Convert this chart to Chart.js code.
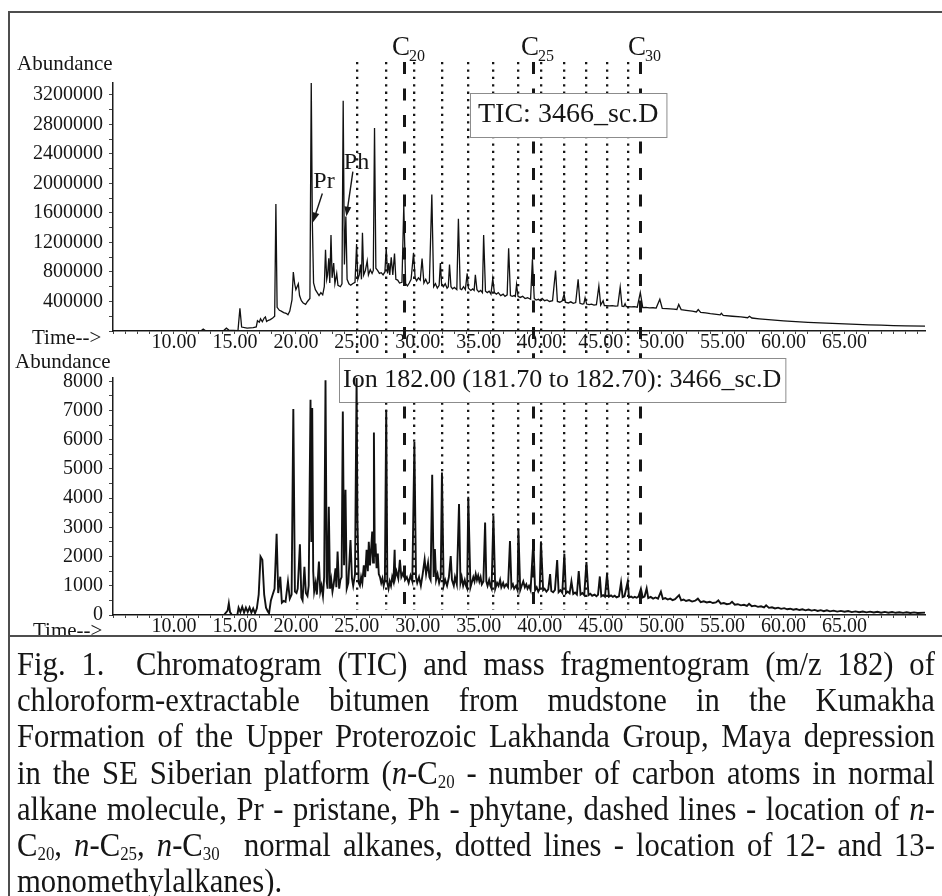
<!DOCTYPE html>
<html lang="en">
<head>
<meta charset="UTF-8"/>
<meta name="viewport" content="width=device-width, initial-scale=1.0"/>
<title>Chromatogram (TIC) and mass fragmentogram (m/z 182)</title>
<script src="https://cdn.jsdelivr.net/npm/chart.js"></script>
<style>
    html, body {
        margin: 0;
        padding: 0;
        background: #fff;
        width: 942px;
        height: 896px;
        overflow: hidden;
        font-family: 'Liberation Serif', 'Times New Roman', serif;
        color: #161616;
    }
    canvas { position: absolute; left: 0; }
    #ticChart { top: 0; }
    #ionChart { top: 348px; }
    .frame {
        position: absolute; left: 8px; top: 11px; width: 940px; height: 900px;
        border-left: 2px solid #4d4d4d; border-top: 2px solid #4d4d4d;
    }
    .divider { position: absolute; left: 8px; width: 934px; top: 635px; height: 2px; background: #4d4d4d; }
    /* the printed caption font is a narrow Times: larger size, squeezed sideways */
    .caption {
        position: absolute; left: 17px; top: 646px; width: 987px;
        font-size: 33px; line-height: 36.2px;
        transform: scaleX(0.93); transform-origin: 0 0;
    }
    .caption .j { text-align: justify; text-align-last: justify; }
    .caption sub { font-size: 0.55em; vertical-align: -0.22em; line-height: 0; }
</style>
</head>
<body>
<canvas id="ticChart" width="942" height="358"></canvas>
<canvas id="ionChart" width="942" height="288"></canvas>
<div class="frame"></div>
<div class="divider"></div>
<div class="caption">
    <div class="j">Fig. 1.&nbsp; Chromatogram (TIC) and mass fragmentogram (m/z 182) of</div>
    <div class="j">chloroform-extractable bitumen from mudstone in the Kumakha</div>
    <div class="j">Formation of the Upper Proterozoic Lakhanda Group, Maya depression</div>
    <div class="j">in the SE Siberian platform (<i>n</i>-C<sub>20</sub> - number of carbon atoms in normal</div>
    <div class="j">alkane molecule, Pr - pristane, Ph - phytane, dashed lines - location of <i>n</i>-</div>
    <div class="j">C<sub>20</sub>, <i>n</i>-C<sub>25</sub>, <i>n</i>-C<sub>30</sub>&nbsp; normal alkanes, dotted lines - location of 12- and 13-</div>
    <div>monomethylalkanes).</div>
</div>

<script>
    // ---------- values ----------
    const timeLabels = [10, 15, 20, 25, 30, 35, 40, 45, 50, 55, 60, 65];
    const ticAxisLabels = [400000, 800000, 1200000, 1600000, 2000000, 2400000, 2800000, 3200000];
    const ionAxisLabels = [0, 1000, 2000, 3000, 4000, 5000, 6000, 7000, 8000];

    // dashed lines: n-C20, n-C25, n-C30 ; dotted lines: 12- and 13-monomethylalkanes
    const nAlkaneTimes = [28.85, 39.43, 48.25];
    const nAlkaneNames = ['20', '25', '30'];
    const methylAlkaneTimes = [24.98, 27.42, 29.72, 31.98, 34.14, 36.2, 38.25, 40.1, 42.02, 43.83, 45.52, 47.22];

    // TIC: baseline / hump (min, abundance)
    const ticBaseTime = [
        5.0, 8.0, 12.2, 12.4, 12.6, 13.5, 14.1, 14.3, 14.5, 15.25, 15.55,
        16.0, 16.5, 16.75, 16.85, 17.0, 17.1, 17.25, 17.4, 17.5, 17.6, 17.75, 17.9, 18.1, 18.26,
        18.46, 18.65, 18.8, 19.0, 19.2, 19.35, 19.5, 19.68, 19.9, 20.0, 20.1, 20.3, 20.45, 20.6, 20.8, 20.95, 21.15,
        21.45, 21.6, 21.75, 21.9, 22.05, 22.2, 22.33, 22.53, 22.6, 22.78, 22.97, 23.2, 23.45, 23.65, 23.78, 23.98,
        24.2, 24.35, 24.5, 24.65, 24.85, 25.08, 25.2, 25.38, 25.56, 25.7, 25.95, 26.1, 26.25, 26.35, 26.56, 26.7, 26.85, 27.0, 27.15, 27.3, 27.52, 27.7, 27.95, 28.2, 28.35, 28.5, 28.7,
        29.0, 29.15, 29.3, 29.45, 29.78, 29.9, 30.05, 30.2, 30.5, 30.65, 30.8, 30.95, 31.3, 31.45, 31.6, 31.75, 31.95, 32.1, 32.25, 32.4, 32.5, 32.72, 32.85, 33.0, 33.2, 33.48, 33.6, 33.75, 33.9,
        34.15, 34.35, 34.5, 34.62, 34.85, 35.0, 35.15, 35.3, 35.55, 35.7, 35.85, 36.0, 36.28, 36.45, 36.6, 36.8, 37.0, 37.15, 37.33, 37.6, 37.75, 37.9, 38.0,
        38.22, 38.4, 38.6, 38.8, 39.0, 39.25, 39.55, 39.7, 39.9, 40.05, 40.2, 40.4, 40.6, 40.8, 41.05, 41.45, 41.65, 41.85, 42.1, 42.35, 42.55, 42.75, 42.95, 43.3, 43.5, 43.62, 43.85,
        44.05, 44.25, 44.45, 44.65, 45.0, 45.3, 45.45, 45.7, 45.95, 46.2, 46.4, 46.75, 46.9, 47.1, 47.25, 47.5, 47.75, 48.0, 48.45, 48.7, 49.0, 49.3, 49.55, 50.05, 50.4, 50.7, 51.0, 51.25, 51.6, 52.0, 52.5, 52.85, 53.2, 53.6, 54.0, 54.5, 54.8, 55.05, 55.8, 56.5, 57.05, 57.4,
        58.0, 59.0, 60.0, 61.0, 62.0, 63.0, 64.0, 65.0, 66.0, 67.0, 68.0, 69.0, 70.0, 71.6
    ];
    const ticBaseValue = [
        0, 0, 0, 25000, 4000, 3000, 9000, 38000, 12000, 6000, 54000,
        40000, 45000, 55000, 140000, 120000, 165000, 125000, 175000, 190000, 130000, 145000, 155000, 175000, 200000,
        320000, 280000, 270000, 250000, 240000, 220000, 270000, 420000, 640000, 560000, 600000, 480000, 410000, 380000, 360000, 400000, 440000,
        650000, 560000, 520000, 480000, 520000, 490000, 600000, 700000, 760000, 650000, 720000, 640000, 620000, 600000, 640000, 900000,
        700000, 640000, 620000, 640000, 660000, 700000, 760000, 700000, 760000, 820000, 760000, 830000, 780000, 820000, 850000, 820000, 780000, 790000, 760000, 800000, 780000, 760000, 760000, 700000, 690000, 650000, 660000,
        640000, 610000, 650000, 700000, 720000, 680000, 720000, 690000, 650000, 700000, 640000, 660000, 600000, 640000, 580000, 620000, 640000, 600000, 640000, 580000, 600000, 600000, 570000, 590000, 560000, 570000, 560000, 600000, 560000,
        580000, 550000, 570000, 550000, 560000, 530000, 550000, 520000, 540000, 520000, 540000, 500000, 520000, 500000, 520000, 480000, 500000, 470000, 490000, 480000, 470000, 480000, 470000,
        470000, 455000, 470000, 440000, 450000, 430000, 440000, 420000, 430000, 410000, 440000, 410000, 420000, 400000, 410000, 400000, 390000, 410000, 390000, 380000, 395000, 375000, 385000, 375000, 365000, 370000, 365000,
        358000, 365000, 352000, 358000, 350000, 345000, 345000, 340000, 345000, 337000, 340000, 335000, 332000, 330000, 330000, 328000, 330000, 322000, 318000, 320000, 312000, 315000, 310000, 305000, 302000, 300000, 296000, 292000, 290000, 280000, 268000, 258000, 252000, 245000, 235000, 225000, 218000, 212000, 200000, 190000, 180000, 176000,
        165000, 150000, 137000, 126000, 117000, 110000, 103000, 96000, 89000, 84000, 79000, 74000, 70000, 66000
    ];
    // TIC: peak apexes
    const ticPeakTime = [
        15.41, 18.36, 19.79, 20.2, 21.26, 21.35, 22.43, 22.7, 22.88, 23.1, 23.35, 23.88, 24.1, 24.98, 25.3, 25.46, 25.85, 26.45,
        27.41, 27.62, 27.82, 28.09, 28.85, 29.65, 30.35, 31.15, 31.85, 32.6, 33.33, 34.05, 34.72, 35.4, 36.15, 37.45, 38.1,
        39.4, 41.3, 42.0, 43.15, 43.72, 44.85, 45.2, 46.6, 47.0, 48.25, 49.85, 51.4, 53.0, 54.9, 57.2
    ];
    const ticPeakValue = [
        306000, 1720000, 800000, 640000, 3360000, 1470000, 1100000, 985000, 1300000, 920000, 780000, 3120000, 1550000, 1180000, 900000, 1330000, 950000, 2750000,
        1120000, 920000, 1000000, 1050000, 1700000, 1060000, 980000, 1850000, 920000, 900000, 1520000, 780000, 760000, 1300000, 710000, 1120000, 630000,
        970000, 820000, 500000, 700000, 450000, 610000, 410000, 595000, 370000, 520000, 430000, 360000, 290000, 240000, 200000
    ];
    const isoprenoidTimes = [21.35, 24.1];
    const isoprenoidNames = ['Pr', 'Ph'];

    // Ion 182: baseline / noise
    const ionBaseTime = [
        5.0, 14.1, 14.4, 14.6, 14.75, 15.2, 15.3, 15.45, 15.6, 15.75, 15.9, 16.05, 16.2, 16.35, 16.5, 16.65, 16.8, 16.95,
        17.4, 17.55, 17.7, 17.8, 17.95, 18.1, 18.25, 18.55, 18.85, 19.0, 19.15, 19.5, 19.65, 19.92, 20.05, 20.15, 20.45, 20.55, 20.82, 20.95, 21.05, 21.27,
        21.42, 21.5, 21.62, 21.72, 22.0, 22.1, 22.22, 22.32, 22.53, 22.6, 22.8, 22.9, 23.0, 23.1, 23.32, 23.55, 23.65, 23.75, 23.95, 24.17, 24.3, 24.6, 24.7, 24.85,
        25.15, 25.25, 25.35, 25.45, 25.68, 25.9, 26.08, 26.33, 26.47, 26.62, 26.8, 26.9, 27.0, 27.1, 27.2, 27.3, 27.5, 27.6, 27.7, 27.8, 27.9, 28.0, 28.15, 28.25, 28.4, 28.65, 28.75, 28.95, 29.1, 29.25, 29.4, 29.55,
        29.85, 29.95, 30.1, 30.25, 30.4, 30.68, 30.95, 31.05, 31.3, 31.5, 31.62, 31.75, 31.88, 32.12, 32.25, 32.4, 32.55, 32.8, 32.95, 33.05, 33.2, 33.5, 33.6, 33.72, 33.85, 33.95, 34.05,
        34.32, 34.45, 34.55, 34.65, 34.75, 34.85, 34.95, 35.05, 35.15, 35.25, 35.38, 35.62, 35.72, 35.85, 35.95, 36.05, 36.35, 36.5, 36.62, 36.75, 36.85, 37.0, 37.1, 37.25, 37.4, 37.68, 37.8, 37.9, 38.05, 38.18, 38.4, 38.52, 38.65, 38.78, 38.9, 39.0, 39.12, 39.25,
        39.62, 39.75, 39.88, 40.0, 40.28, 40.4, 40.55, 40.7, 40.95, 41.1, 41.25, 41.55, 41.7, 41.85, 42.15, 42.3, 42.45, 42.75, 42.9, 43.05, 43.35, 43.5, 43.65, 44.0, 44.15, 44.3, 44.5, 44.65, 44.78, 45.05, 45.2, 45.35, 45.68, 45.85, 46.0, 46.15, 46.3, 46.5, 46.8, 46.95, 47.32, 47.5, 47.65, 47.8, 47.95,
        48.1, 48.45, 48.6, 48.9, 49.1, 49.3, 49.5, 49.7, 50.1, 50.3, 50.5, 50.7, 50.9, 51.1, 51.6, 51.8, 52.0, 52.25, 52.5, 52.75, 53.2, 53.45, 53.7, 53.95, 54.2, 54.45, 54.85, 55.1, 55.35, 55.6, 56.0, 56.25, 56.5, 56.75, 57.0, 57.4, 57.65, 57.9, 58.15, 58.4,
        58.8, 59.05, 59.3, 59.55, 59.8, 60.05, 60.3, 60.55, 60.8, 61.05, 61.3, 61.55, 61.8, 62.05, 62.3, 62.55, 62.8, 63.05, 63.3, 63.55, 63.8, 64.1, 64.4, 64.7, 65.0, 65.3, 65.6, 65.9, 66.2, 66.5, 66.8, 67.1, 67.4, 67.7, 68.0, 68.3, 68.6, 68.9, 69.2, 69.5, 69.8, 70.1, 70.4, 70.7, 71.0, 71.6
    ];
    const ionBaseValue = [
        0, 0, 150, 100, 0, 0, 250, 100, 280, 80, 250, 100, 260, 80, 220, 60, 230, 700,
        700, 250, 120, 60, 500, 700, 900, 750, 420, 480, 450, 560, 700, 800, 750, 900, 600, 500, 750, 650, 1000, 2500,
        1500, 800, 1100, 700, 800, 1000, 650, 1300, 1150, 900, 900, 1200, 800, 1050, 950, 900, 1200, 1300, 1700, 900, 1100, 1250, 1000, 1400,
        1100, 1000, 1300, 1100, 1300, 1500, 1700, 1800, 2000, 1600, 1400, 1300, 1100, 1250, 1000, 1200, 1100, 900, 1150, 1000, 1300, 1150, 1300, 1500, 1250, 1300, 1400, 1200, 1300, 1100, 1350, 1150,
        1300, 1100, 1300, 1000, 1400, 1400, 1300, 1200, 1300, 1200, 1400, 1100, 1300, 1000, 1200, 1000, 1300, 1200, 1000, 1300, 1050, 1100, 1300, 1000, 1200, 1000, 900,
        950, 1150, 1300, 1150, 1400, 1200, 1350, 1150, 1300, 1050, 1150, 1150, 1000, 1200, 1000, 900, 900, 1100, 1000, 1200, 950, 1100, 950, 1050, 950, 950, 1050, 900, 1000, 850, 850, 1000, 1150, 950, 1050, 900, 1000, 850,
        850, 950, 800, 900, 850, 900, 800, 880, 820, 780, 860, 780, 850, 760, 740, 800, 740, 720, 770, 700, 700, 750, 680, 680, 730, 660, 700, 640, 690, 640, 680, 630, 630, 670, 620, 660, 600, 640, 610, 640, 600, 630, 590, 620, 590,
        630, 600, 630, 580, 620, 560, 600, 560, 550, 580, 530, 560, 510, 540, 500, 530, 480, 510, 460, 490, 440, 470, 430, 455, 410, 430, 390, 410, 370, 390, 350, 370, 330, 350, 310, 300, 320, 280, 300, 260,
        245, 265, 225, 250, 210, 235, 195, 215, 180, 205, 170, 195, 160, 185, 150, 175, 140, 165, 130, 160, 125, 150, 115, 140, 110, 135, 100, 125, 95, 120, 90, 115, 85, 110, 80, 105, 78, 100, 75, 95, 72, 92, 70, 90, 70, 80
    ];
    // Ion 182: peak apexes
    const ionPeakTime = [
        14.5, 17.1, 17.25, 18.42, 18.72, 19.35, 19.79, 20.33, 20.7, 21.2, 21.34,
        21.89, 22.43, 22.7, 23.25, 23.42, 23.85, 24.07, 24.48,
        24.98, 25.05, 25.57, 25.8, 25.98, 26.18, 26.26, 26.4, 26.53, 26.72, 27.41, 28.1, 28.53, 28.85,
        29.72, 30.56, 30.84, 31.18, 31.4, 31.98, 32.7, 33.38,
        34.14, 35.52, 36.2, 37.56, 38.25,
        39.48, 40.1, 40.85, 41.43, 42.02, 42.6, 43.2, 43.83, 44.93, 45.52, 46.67, 47.22,
        48.3, 48.77, 49.94, 51.43, 52.97, 54.65, 55.77, 57.17, 58.57
    ];
    const ionPeakValue = [
        400, 2000, 1890, 2780, 1310, 1140, 7050, 2420, 1650, 7370, 7090,
        1830, 8035, 3710, 1600, 2170, 6970, 4290, 2570,
        8115, 3200, 1700, 2230, 2510, 2300, 2860, 6250, 2450, 2100, 7030, 2230, 1890, 1500,
        5920, 1900, 1790, 4800, 2260, 4880, 2020, 3800,
        4050, 3170, 3400, 2530, 2950,
        2550, 2520, 1400, 1880, 2100, 1150, 1500, 1810, 1320, 1400, 1110, 1150,
        900, 910, 800, 680, 560, 500, 450, 380, 330
    ];

    // ---------- helpers ----------
    function checkPairs(name, a, b) {
        if (a.length !== b.length) throw new Error(name + ': ' + a.length + ' times vs ' + b.length + ' values');
    }
    checkPairs('ticBase', ticBaseTime, ticBaseValue);
    checkPairs('ticPeak', ticPeakTime, ticPeakValue);
    checkPairs('ionBase', ionBaseTime, ionBaseValue);
    checkPairs('ionPeak', ionPeakTime, ionPeakValue);

    function buildPoints(bt, bv, pt, pv) {
        const pts = bt.map((t, i) => ({ x: t, y: bv[i] }))
            .concat(pt.map((t, i) => ({ x: t, y: pv[i] })));
        pts.sort((a, b) => a.x - b.x);
        return pts;
    }

    const SERIF = "'Liberation Serif', 'Times New Roman', serif";
    const INK = '#161616';
    const LINE_TOP = 62;      // page y where the marker lines start
    const LINE_BOTTOM = 610;  // page y where they end
    const X_MIN = 5, X_MAX = 71.6;

    function range(from, to, step) {
        const out = [];
        for (let v = from; v <= to + 1e-9; v += step) out.push(Math.round(v * 1000) / 1000);
        return out;
    }

    function vline(ctx, x, y0, y1) {
        ctx.beginPath();
        ctx.moveTo(x, y0);
        ctx.lineTo(x, y1);
        ctx.stroke();
    }

    function arrow(ctx, x0, y0, x1, y1) {
        const a = Math.atan2(y1 - y0, x1 - x0);
        ctx.beginPath();
        ctx.moveTo(x0, y0);
        ctx.lineTo(x1 - 6 * Math.cos(a), y1 - 6 * Math.sin(a));
        ctx.stroke();
        ctx.beginPath();
        ctx.moveTo(x1, y1);
        ctx.lineTo(x1 - 10 * Math.cos(a) + 3.5 * Math.sin(a), y1 - 10 * Math.sin(a) - 3.5 * Math.cos(a));
        ctx.lineTo(x1 - 10 * Math.cos(a) - 3.5 * Math.sin(a), y1 - 10 * Math.sin(a) + 3.5 * Math.cos(a));
        ctx.closePath();
        ctx.fill();
    }

    // marker lines, title box, axis captions, peak labels
    const overlayPlugin = {
        id: 'overlay',
        beforeDatasetsDraw(chart, args, o) {
            const ctx = chart.ctx, xs = chart.scales.x;
            const y0 = LINE_TOP - o.pageTop, y1 = LINE_BOTTOM - o.pageTop;
            ctx.save();
            ctx.strokeStyle = INK;
            ctx.lineCap = 'butt';
            ctx.lineWidth = 2.3;
            ctx.setLineDash([2.3, 5.1]);
            methylAlkaneTimes.forEach(t => vline(ctx, Math.round(xs.getPixelForValue(t)) + 0.15, y0, y1));
            ctx.lineWidth = 3;
            ctx.setLineDash([12, 14.5]);
            nAlkaneTimes.forEach(t => vline(ctx, Math.round(xs.getPixelForValue(t)) + 0.5, y0, y1));
            ctx.setLineDash([]);

            // title box
            const b = o.box;
            ctx.font = b.size + 'px ' + SERIF;
            const w = ctx.measureText(b.text).width + 2 * b.pad;
            const top = b.top - o.pageTop;
            ctx.fillStyle = '#fff';
            ctx.fillRect(b.left, top, w, b.height);
            ctx.strokeStyle = '#8c8c8c';
            ctx.lineWidth = 1;
            ctx.strokeRect(b.left + 0.5, top + 0.5, w, b.height);
            ctx.fillStyle = INK;
            ctx.textBaseline = 'alphabetic';
            ctx.fillText(b.text, b.left + b.pad, b.baseline - o.pageTop);
            ctx.restore();
        },
        afterDraw(chart, args, o) {
            const ctx = chart.ctx, xs = chart.scales.x, ys = chart.scales.y;
            ctx.save();
            ctx.fillStyle = INK;
            ctx.strokeStyle = INK;
            ctx.textBaseline = 'alphabetic';
            ctx.font = '21px ' + SERIF;
            ctx.fillText('Abundance', o.abundance[0], o.abundance[1] - o.pageTop);
            ctx.fillText('Time-->', o.time[0], o.time[1] - o.pageTop);

            if (o.carbonLabels) {
                nAlkaneTimes.forEach((t, i) => {
                    const x = Math.round(xs.getPixelForValue(t)) - 12;
                    ctx.font = '27px ' + SERIF;
                    ctx.fillText('C', x, 55);
                    const cw = ctx.measureText('C').width;
                    ctx.font = '16px ' + SERIF;
                    ctx.fillText(nAlkaneNames[i], x + cw - 1, 61);
                });
            }
            if (o.isoprenoids) {
                // label offset from the peak it points at: [text dx, text dy, tail dx, tail dy]
                const offs = { Pr: [1, -35, 10, -29], Ph: [-2, -48, 7, -45] };
                ctx.font = '24px ' + SERIF;
                ctx.lineWidth = 1.4;
                isoprenoidTimes.forEach((t, i) => {
                    const k = ticPeakTime.indexOf(t);
                    const px = xs.getPixelForValue(t), py = ys.getPixelForValue(ticPeakValue[k]);
                    const d = offs[isoprenoidNames[i]];
                    ctx.fillText(isoprenoidNames[i], px + d[0], py + d[1]);
                    arrow(ctx, px + d[2], py + d[3], px + 0.5, py);
                });
            }
            ctx.restore();
        }
    };

    const tickFont = { family: SERIF, size: 20, lineHeight: 1 };

    function makeScales(yMax, yStep, yLabels, xAxisHeight) {
        return {
            x: {
                type: 'linear',
                min: X_MIN,
                max: X_MAX,
                afterFit: s => { s.height = xAxisHeight; },
                afterBuildTicks: s => { s.ticks = range(5, 71, 1).map(v => ({ value: v })); },
                border: { display: true, color: '#1c1c1c', width: 1.5 },
                grid: { drawOnChartArea: false, drawTicks: true, tickLength: 3, color: '#444', lineWidth: 1 },
                ticks: {
                    autoSkip: false, maxRotation: 0, minRotation: 0, padding: -1, color: INK, font: tickFont,
                    callback: v => timeLabels.includes(v) ? v.toFixed(2) : ''
                }
            },
            y: {
                type: 'linear',
                min: 0,
                max: yMax,
                afterFit: s => { s.width = 113; },
                afterBuildTicks: s => { s.ticks = range(0, yLabels[yLabels.length - 1], yStep).map(v => ({ value: v })); },
                border: { display: true, color: '#1c1c1c', width: 1.5 },
                grid: { drawOnChartArea: false, drawTicks: true, tickLength: 4, color: '#444', lineWidth: 1 },
                ticks: {
                    autoSkip: false, padding: 6, color: INK, font: tickFont,
                    callback: v => yLabels.includes(v) ? String(v) : ''
                }
            }
        };
    }

    function makeChart(id, points, lineWidth, scales, padding, overlay) {
        return new Chart(document.getElementById(id).getContext('2d'), {
            type: 'line',
            data: {
                datasets: [{
                    data: points,
                    borderColor: '#111',
                    borderWidth: lineWidth,
                    pointRadius: 0,
                    tension: 0,
                    fill: false
                }]
            },
            options: {
                responsive: false,
                animation: false,
                devicePixelRatio: 1,
                events: [],
                layout: { padding: padding },
                scales: scales,
                plugins: {
                    legend: { display: false },
                    tooltip: { enabled: false },
                    overlay: overlay
                }
            },
            plugins: [overlayPlugin]
        });
    }

    makeChart('ticChart',
        buildPoints(ticBaseTime, ticBaseValue, ticPeakTime, ticPeakValue),
        1.3,
        makeScales(3360000, 200000, ticAxisLabels, 27),
        { top: 83, right: 17, bottom: 0, left: 0 },
        {
            pageTop: 0,
            box: { text: 'TIC: 3466_sc.D', size: 28, left: 470, top: 93, height: 44, pad: 8, baseline: 122 },
            abundance: [17, 70],
            time: [32, 344],
            carbonLabels: true,
            isoprenoids: true
        });

    makeChart('ionChart',
        buildPoints(ionBaseTime, ionBaseValue, ionPeakTime, ionPeakValue),
        1.9,
        makeScales(8115, 500, ionAxisLabels, 21),
        { top: 30, right: 17, bottom: 0, left: 0 },
        {
            pageTop: 348,
            box: { text: 'Ion 182.00 (181.70 to 182.70): 3466_sc.D', size: 26, left: 339, top: 358, height: 44, pad: 4, baseline: 387 },
            abundance: [15, 368],
            time: [33, 637],
            carbonLabels: false,
            isoprenoids: false
        });
</script>
</body>
</html>
